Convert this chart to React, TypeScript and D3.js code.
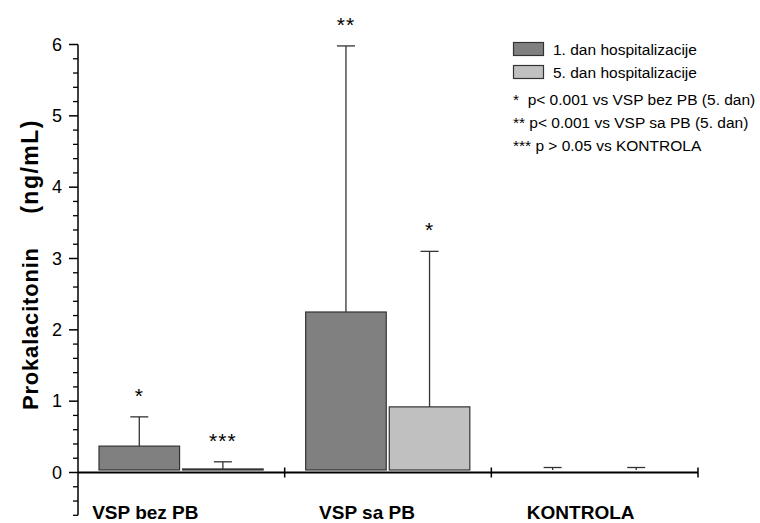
import React, { useRef, useEffect } from "react";
import * as d3 from "d3";

// groups on the x axis
const groups = ["VSP bez PB", "VSP sa PB", "KONTROLA"];
const seriesNames = ["1. dan hospitalizacije", "5. dan hospitalizacije"];
const seriesKeys = ["d1", "d5"];

// means and SD (upper error only)
const day1Mean = [0.37, 2.25, 0.01];
const day1Sd = [0.41, 3.73, 0.06];
const day5Mean = [0.05, 0.92, 0.01];
const day5Sd = [0.1, 2.18, 0.06];

// significance marks above the error bars
const day1Marks = ["*", "**", ""];
const day5Marks = ["***", "*", ""];

const notes = [
  "*  p< 0.001 vs VSP bez PB (5. dan)",
  "** p< 0.001 vs VSP sa PB (5. dan)",
  "*** p > 0.05 vs KONTROLA",
];

const yTicks = [0, 1, 2, 3, 4, 5, 6];
const labelShift = [-36, -21, -14];

const FONT = "'Liberation Sans', Arial, sans-serif";

const App = () => {
  const svgRef = useRef<SVGSVGElement | null>(null);

  const width = 760;
  const height = 523;
  const axisX = 78;
  const axisEnd = 698;

  useEffect(() => {
    const svg = d3.select(svgRef.current);
    svg.selectAll("*").remove();

    const y = d3.scaleLinear().domain([-0.6, 6]).range([515.3, 44.5]);
    const x = d3.scaleBand().domain(groups).range([axisX, axisEnd]).padding(0);
    const inner = d3
      .scaleBand()
      .domain(seriesKeys)
      .range([21, x.bandwidth() - 21.5])
      .paddingInner(0.036);

    const colors = d3.scaleOrdinal<string>().domain(seriesKeys).range(["#808080", "#c0c0c0"]);

    const rows = groups.flatMap((g, i) => [
      { group: g, key: "d1", mean: day1Mean[i], sd: day1Sd[i], mark: day1Marks[i] },
      { group: g, key: "d5", mean: day5Mean[i], sd: day5Sd[i], mark: day5Marks[i] },
    ]);

    const y0 = y(0);
    const barBase = y0 - 2.5;

    // bars
    svg
      .append("g")
      .selectAll("rect")
      .data(rows.filter((d) => y(d.mean) < barBase))
      .enter()
      .append("rect")
      .attr("x", (d) => (x(d.group) as number) + (inner(d.key) as number))
      .attr("y", (d) => y(d.mean))
      .attr("width", inner.bandwidth())
      .attr("height", (d) => barBase - y(d.mean))
      .attr("fill", (d) => colors(d.key))
      .attr("stroke", "#333")
      .attr("stroke-width", 1.2);

    // error bars (upper only)
    const err = svg.append("g").attr("stroke", "#333").attr("stroke-width", 1.3);
    rows.forEach((d) => {
      const cx = (x(d.group) as number) + (inner(d.key) as number) + inner.bandwidth() / 2;
      const top = y(d.mean + d.sd);
      const bottom = Math.min(y(d.mean), barBase);
      err.append("line").attr("x1", cx).attr("x2", cx).attr("y1", top).attr("y2", bottom);
      err.append("line").attr("x1", cx - 9).attr("x2", cx + 9).attr("y1", top).attr("y2", top);
      if (d.mark) {
        svg
          .append("text")
          .attr("x", cx)
          .attr("y", top - 14)
          .attr("text-anchor", "middle")
          .attr("letter-spacing", "1px")
          .style("font-family", FONT)
          .style("font-size", "21px")
          .text(d.mark);
      }
    });

    // y axis
    const ya = svg.append("g").attr("stroke", "#000");
    ya.append("line")
      .attr("x1", axisX)
      .attr("x2", axisX)
      .attr("y1", y(6))
      .attr("y2", y(-0.6))
      .attr("stroke-width", 1.5);
    const minor = d3.range(-3, 31).map((v) => v / 5);
    ya.selectAll(".minor")
      .data(minor.filter((v) => Math.abs(v - Math.round(v)) > 1e-6 || v < 0))
      .enter()
      .append("line")
      .attr("x1", axisX - 5)
      .attr("x2", axisX)
      .attr("y1", (v) => y(v))
      .attr("y2", (v) => y(v))
      .attr("stroke-width", 1.3);
    ya.selectAll(".major")
      .data(yTicks)
      .enter()
      .append("line")
      .attr("x1", axisX - 9)
      .attr("x2", axisX)
      .attr("y1", (v) => y(v))
      .attr("y2", (v) => y(v))
      .attr("stroke-width", 1.5);
    svg
      .append("g")
      .selectAll("text")
      .data(yTicks)
      .enter()
      .append("text")
      .attr("x", 62)
      .attr("y", (v) => y(v))
      .attr("dy", "0.35em")
      .attr("text-anchor", "end")
      .style("font-family", FONT)
      .style("font-size", "18px")
      .text((v) => String(v));

    // y label, two parts with a wide gap
    const yl = svg
      .append("g")
      .style("font-family", FONT)
      .style("font-size", "22px")
      .style("font-weight", "bold")
      .attr("letter-spacing", "0.8px");
    yl.append("text")
      .attr("transform", "translate(38,410) rotate(-90)")
      .attr("text-anchor", "start")
      .text("Prokalacitonin");
    yl.append("text")
      .attr("transform", "translate(38,119) rotate(-90)")
      .attr("text-anchor", "end")
      .attr("letter-spacing", "1.5px")
      .style("font-size", "23px")
      .text("(ng/mL)");

    // x axis
    const xa = svg.append("g").attr("stroke", "#000").attr("stroke-width", 2);
    xa.append("line").attr("x1", axisX).attr("x2", axisEnd).attr("y1", y0).attr("y2", y0);
    xa.selectAll(".tick")
      .data(groups)
      .enter()
      .append("line")
      .attr("x1", (g) => (x(g) as number) + x.bandwidth())
      .attr("x2", (g) => (x(g) as number) + x.bandwidth())
      .attr("y1", y0 - 5)
      .attr("y2", y0 + 5)
      .attr("stroke-width", 1.5);
    svg
      .append("g")
      .selectAll("text")
      .data(groups)
      .enter()
      .append("text")
      .attr("x", (g, i) => (x(g) as number) + x.bandwidth() / 2 + labelShift[i])
      .attr("y", 519)
      .attr("text-anchor", "middle")
      .style("font-family", FONT)
      .style("font-size", "19px")
      .style("font-weight", "bold")
      .text((g) => g);

    // legend
    const lg = svg.append("g");
    seriesNames.forEach((name, i) => {
      lg.append("rect")
        .attr("x", 513.5)
        .attr("y", 42.5 + i * 23)
        .attr("width", 30)
        .attr("height", 13)
        .attr("fill", colors(seriesKeys[i]))
        .attr("stroke", "#333")
        .attr("stroke-width", 1.2);
      lg.append("text")
        .attr("x", 553)
        .attr("y", 54.5 + i * 23)
        .style("font-family", FONT)
        .style("font-size", "15.5px")
        .text(name);
    });
    notes.forEach((n, i) => {
      lg.append("text")
        .attr("x", 513)
        .attr("y", 105 + i * 23)
        .attr("xml:space", "preserve")
        .style("white-space", "pre")
        .style("font-family", FONT)
        .style("font-size", "15.5px")
        .text(n);
    });
  }, []);

  return (
    <svg
      ref={svgRef}
      width={width}
      height={height}
      style={{ position: "absolute", left: 0, top: 0, background: "#fff" }}
    />
  );
};

export default App;
